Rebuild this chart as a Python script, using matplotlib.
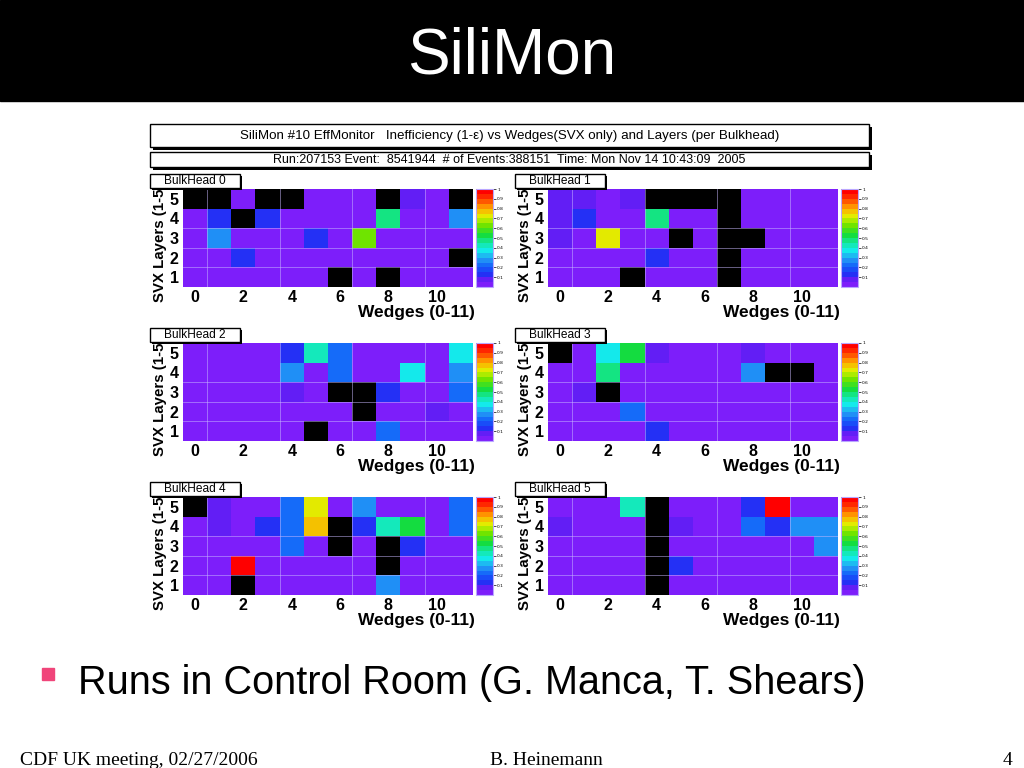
import numpy as np
import matplotlib
matplotlib.use("Agg")
import matplotlib.pyplot as plt
from matplotlib.colors import LinearSegmentedColormap
from matplotlib.patches import Rectangle

# ---- data : inefficiency per wedge (0-11), rows = layer 5 .. layer 1, None = dead (black)
K = None
bh0 = [[K, K, .02, K, K, .02, .02, .02, K, .08, .02, K],
       [.02, .13, K, .12, .02, .02, .02, .02, .48, .02, .02, .26],
       [.02, .27, .02, .02, .02, .13, .02, .60, .02, .02, .02, .02],
       [.02, .02, .12, .02, .02, .02, .02, .02, .02, .02, .02, K],
       [.02, .02, .02, .02, .02, .02, K, .02, K, .02, .02, .02]]
bh1 = [[.07, .07, .02, .08, K, K, K, K, .02, .02, .02, .02],
       [.07, .12, .02, .02, .47, .02, .02, K, .02, .02, .02, .02],
       [.06, .02, .72, .02, .02, K, .02, K, K, .02, .02, .02],
       [.02, .02, .02, .02, .12, .02, .02, K, .02, .02, .02, .02],
       [.02, .02, .02, K, .02, .02, .02, K, .02, .02, .02, .02]]
bh2 = [[.02, .02, .02, .02, .12, .40, .20, .02, .02, .02, .02, .36],
       [.02, .02, .02, .02, .26, .02, .20, .02, .02, .37, .02, .27],
       [.02, .02, .02, .02, .08, .02, K, K, .12, .02, .02, .23],
       [.02, .02, .02, .02, .02, .02, .02, K, .02, .02, .08, .02],
       [.02, .02, .02, .02, .02, K, .02, .02, .21, .02, .02, .02]]
bh3 = [[K, .02, .37, .50, .08, .02, .02, .02, .08, .02, .02, .02],
       [.02, .02, .48, .02, .02, .02, .02, .02, .27, K, K, .02],
       [.02, .08, K, .02, .02, .02, .02, .02, .02, .02, .02, .02],
       [.02, .02, .02, .22, .02, .02, .02, .02, .02, .02, .02, .02],
       [.02, .02, .02, .02, .11, .02, .02, .02, .02, .02, .02, .02]]
bh4 = [[K, .08, .02, .02, .20, .72, .02, .27, .02, .02, .02, .20],
       [.02, .08, .02, .10, .20, .77, K, .10, .40, .52, .02, .20],
       [.02, .02, .02, .02, .20, .02, K, .02, K, .13, .02, .02],
       [.02, .02, .97, .02, .02, .02, .02, .02, K, .02, .02, .02],
       [.02, .02, K, .02, .02, .02, .02, .02, .27, .02, .02, .02]]
bh5 = [[.02, .02, .02, .40, K, .02, .02, .02, .12, .97, .02, .02],
       [.08, .02, .02, .02, K, .08, .02, .02, .21, .10, .28, .28],
       [.02, .02, .02, .02, K, .02, .02, .02, .02, .02, .02, .28],
       [.02, .02, .02, .02, K, .12, .02, .02, .02, .02, .02, .02],
       [.02, .02, .02, .02, K, .02, .02, .02, .02, .02, .02, .02]]
bulkheads = [bh0, bh1, bh2, bh3, bh4, bh5]
bh_names = ["BulkHead 0", "BulkHead 1", "BulkHead 2", "BulkHead 3", "BulkHead 4", "BulkHead 5"]
x_ticks = [0, 2, 4, 6, 8, 10]
y_ticks = [1, 2, 3, 4, 5]
cbar_ticks = [0.1, 0.2, 0.3, 0.4, 0.5, 0.6, 0.7, 0.8, 0.9, 1.0]
cbar_labels = ["0.1", "0.2", "0.3", "0.4", "0.5", "0.6", "0.7", "0.8", "0.9", "1"]

header1 = "SiliMon #10 EffMonitor   Inefficiency (1-\u03b5) vs Wedges(SVX only) and Layers (per Bulkhead)"
header2 = "Run:207153 Event:  8541944  # of Events:388151  Time: Mon Nov 14 10:43:09  2005"

# ROOT-ish rainbow palette, 20 bands
pal_pts = [(0.0, (125, 30, 250)), (0.06, (95, 30, 245)), (0.11, (30, 50, 245)),
           (0.20, (20, 100, 250)), (0.28, (35, 155, 245)), (0.37, (20, 235, 235)),
           (0.45, (20, 232, 160)), (0.53, (20, 220, 60)), (0.63, (110, 228, 0)),
           (0.73, (225, 240, 0)), (0.82, (255, 170, 0)), (0.92, (255, 60, 0)),
           (1.0, (255, 0, 0))]
cmap = LinearSegmentedColormap.from_list(
    "root", [(p, tuple(c / 255 for c in rgb)) for p, rgb in pal_pts], N=20)
cmap.set_bad("black")

W, H = 1024, 768
SANS = ["Liberation Sans", "DejaVu Sans"]

fig = plt.figure(figsize=(W / 100, H / 100), dpi=100, facecolor="white")


def px_axes(x0, y0, x1, y1):
    return fig.add_axes([x0 / W, 1 - y1 / H, (x1 - x0) / W, (y1 - y0) / H])


ov = fig.add_axes([0, 0, 1, 1], zorder=10)
ov.set_xlim(0, W)
ov.set_ylim(H, 0)
ov.axis("off")

# slide title bar
ov.add_patch(Rectangle((0, 0), W, 101, color="black", zorder=1))
ov.text(512, 57, "SiliMon", color="white", fontsize=46, family=SANS,
        ha="center", va="center", zorder=2)


def pave(x0, y0, x1, y1, txt, fs, shadow=3):
    ov.add_patch(Rectangle((x0 + shadow, y0 + shadow), x1 - x0, y1 - y0,
                           facecolor="black", edgecolor="none", zorder=4))
    ov.add_patch(Rectangle((x0, y0), x1 - x0, y1 - y0, facecolor="white",
                           edgecolor="black", lw=1.0, zorder=5))
    ov.text((x0 + x1) / 2, (y0 + y1) / 2 + 0.5, txt, fontsize=fs, family=SANS,
            ha="center", va="center", zorder=6)


pave(150, 124, 869, 147, header1, 9.6)
pave(150, 152, 869, 167, header2, 9.0)

col_x = [183, 548]
row_y = [189, 343, 497]
pw, ph = 290, 98

for i, (vals, name) in enumerate(zip(bulkheads, bh_names)):
    x0 = col_x[i % 2]
    y0 = row_y[i // 2]
    arr = np.array([[np.nan if v is None else v for v in row] for row in vals])[::-1]

    ax = px_axes(x0, y0, x0 + pw, y0 + ph)
    im = ax.imshow(arr, origin="lower", extent=(-0.5, 11.5, 0.5, 5.5),
                   aspect="auto", cmap=cmap, vmin=0, vmax=1, interpolation="nearest")
    for gx in [0.5, 3.5, 6.5, 9.5]:
        ax.axvline(gx, color="#c8b8ff", lw=0.6, alpha=0.6)
    for gy in [1.5, 2.5, 3.5]:
        ax.axhline(gy, color="#c8b8ff", lw=0.6, alpha=0.6)
    ax.set_xticks(x_ticks)
    ax.set_yticks(y_ticks)
    ax.tick_params(length=0, labelsize=11.5)
    ax.tick_params(axis="x", pad=2.5)
    ax.tick_params(axis="y", pad=3)
    for lab in ax.get_xticklabels() + ax.get_yticklabels():
        lab.set_fontweight("bold")
        lab.set_family(SANS)
    for s in ax.spines.values():
        s.set_visible(False)

    cax = px_axes(x0 + 293, y0, x0 + 310, y0 + ph)
    cb = fig.colorbar(im, cax=cax, ticks=cbar_ticks)
    cb.ax.set_yticklabels(cbar_labels)
    cb.ax.tick_params(labelsize=3.2, length=2, width=0.5, pad=1)
    cb.outline.set_edgecolor("#b9a6ff")
    cb.outline.set_linewidth(0.8)

    ov.text(x0 + pw + 2, y0 + ph + 26, "Wedges (0-11)", fontsize=12.5,
            fontweight="bold", family=SANS, ha="right", va="center", zorder=3)
    ov.text(x0 - 23, y0 + ph + 15, "SVX Layers (1-5)", fontsize=10.8,
            fontweight="bold", family=SANS, rotation=90, ha="center",
            va="bottom", zorder=3)
    # the bulkhead label hides the top of the axis title, as in ROOT
    ov.add_patch(Rectangle((x0 - 40, y0 - 21), 100, 21, facecolor="white",
                           edgecolor="none", zorder=3.5))
    pave(x0 - 33, y0 - 15, x0 + 57, y0 - 1, name, 8.6, shadow=2)

# bullet + footer
ov.add_patch(Rectangle((42, 668), 12, 12, color="#f0457a", zorder=2))
ov.text(78, 683, "Runs in Control Room (G. Manca, T. Shears)", fontsize=28.5,
        family=SANS, ha="left", va="center", zorder=2)
ov.text(20, 765, "CDF UK meeting, 02/27/2006", fontsize=14, family="Liberation Serif",
        ha="left", va="baseline", zorder=2)
ov.text(546, 765, "B. Heinemann", fontsize=14, family="Liberation Serif",
        ha="center", va="baseline", zorder=2)
ov.text(1012, 765, "4", fontsize=14, family="Liberation Serif",
        ha="right", va="baseline", zorder=2)

fig.savefig("out.png", dpi=100, facecolor="white")
